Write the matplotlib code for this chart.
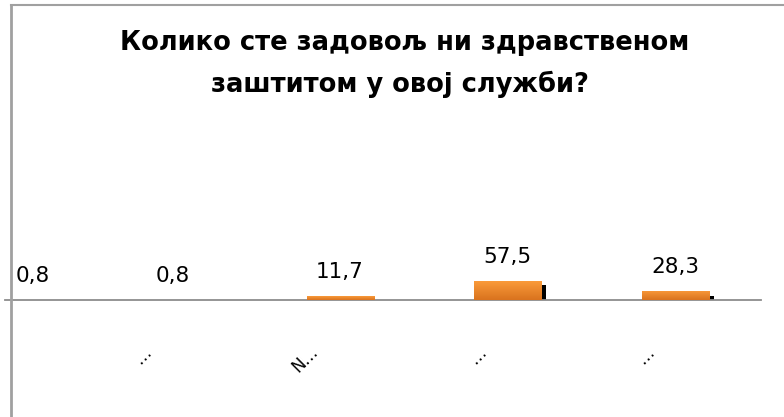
import matplotlib
matplotlib.use("Agg")
import matplotlib.pyplot as plt
import matplotlib.transforms as mtransforms
from matplotlib.colors import LinearSegmentedColormap
import numpy as np

# ---- data ----
categories = ['…', '…', 'N…', '…', '…']
values = [0.8, 0.8, 11.7, 57.5, 28.3]
value_labels = ['0,8', '0,8', '11,7', '57,5', '28,3']
shadow_values = [0, 0, 0, 45, 12]
title_lines = ['Колико сте задовољ ни здравственом', 'заштитом у овој служби?']

W, H = 784, 417
fig = plt.figure(figsize=(W / 100, H / 100), dpi=100)

XMIN, XMAX = 0.012, 4.512
YMIN, YMAX = -354.5, 515
# axes: left 5px, right 761px, top 130px, bottom 417px
ax = fig.add_axes([5 / W, 0, (761 - 5) / W, (417 - 130) / H])
ax.patch.set_alpha(0)

x = np.arange(len(categories))
bw = 0.40
bars = ax.bar(x, values, width=bw, color='#F08A2A', zorder=2)

# vertical gradient on the orange bars
cmap = LinearSegmentedColormap.from_list('og', ['#D9731E', '#FA9A3A'])
grad = np.linspace(0, 1, 64).reshape(-1, 1)
for b in bars:
    x0, y0 = b.get_x(), b.get_y()
    w, h = b.get_width(), b.get_height()
    if h <= 0:
        continue
    im = ax.imshow(grad, extent=[x0, x0 + w, y0, y0 + h], origin='lower',
                   aspect='auto', cmap=cmap, zorder=3)
    im.set_clip_path(b)

# thin black bars next to the orange ones
sw = 0.03
ax.bar(x + bw / 2 + sw / 2, shadow_values, width=sw, color='black', zorder=2)

ax.set_xlim(XMIN, XMAX)
ax.set_ylim(YMIN, YMAX)

# value labels
for i, (v, lab) in enumerate(zip(values, value_labels)):
    dx = 20 if i == 0 else 0
    ax.annotate(lab, xy=(i, v), xytext=(dx, 13), textcoords='offset points',
                ha='center', va='baseline', fontsize=15.5,
                family='DejaVu Sans', color='black', annotation_clip=False)

# axis styling
for s in ['top', 'right', 'left']:
    ax.spines[s].set_visible(False)
ax.spines['bottom'].set_position(('data', 0))
ax.spines['bottom'].set_color('#8C8C8C')
ax.spines['bottom'].set_linewidth(1.3)
ax.set_yticks([])
ax.set_xticks(x)
ax.set_xticklabels(categories, rotation=45, ha='right', fontsize=12,
                   family='DejaVu Sans')
ax.tick_params(axis='x', length=0, pad=31)
offset = mtransforms.ScaledTranslation(-18 / 100, 0, fig.dpi_scale_trans)
for i, lbl in enumerate(ax.get_xticklabels()):
    lbl.set_transform(lbl.get_transform() + offset)
    if i == 0:
        lbl.set_visible(False)  # lies outside the visible chart area

# chart border (left and top visible)
fig.add_artist(plt.Line2D([11 / W, 11 / W], [0, 1 - 5 / H],
                          transform=fig.transFigure, color='#A0A0A0', lw=2))
fig.add_artist(plt.Line2D([11 / W, 1], [1 - 5 / H, 1 - 5 / H],
                          transform=fig.transFigure, color='#A0A0A0', lw=1.5))

# title
fig.text(405 / W, 1 - 50 / H, title_lines[0],
         ha='center', va='baseline', fontsize=18.5, fontweight='bold',
         family='DejaVu Sans')
fig.text(400 / W, 1 - 92 / H, title_lines[1],
         ha='center', va='baseline', fontsize=18.5, fontweight='bold',
         family='DejaVu Sans')

fig.savefig('out.png', dpi=100)
